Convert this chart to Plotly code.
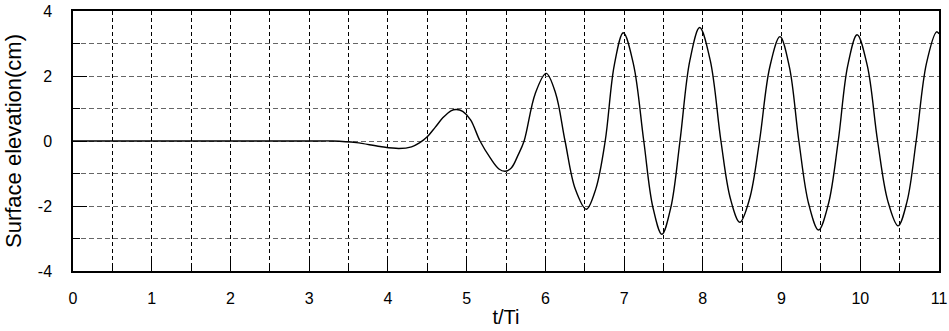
import plotly.graph_objects as go

# Surface elevation record (t/Ti, cm): extrema, zero crossings and in-between points
t_ti = [0.0, 1.0, 2.0, 3.0, 3.3, 3.6, 3.9, 4.14, 4.3, 4.4, 4.5, 4.6, 4.7, 4.8, 4.87,
        4.95, 5.05, 5.17, 5.3, 5.41, 5.49, 5.57, 5.65, 5.73, 5.87, 6.01, 6.13, 6.25,
        6.38, 6.52, 6.64, 6.76, 6.875, 6.99, 7.12, 7.25, 7.365, 7.48, 7.595, 7.71,
        7.835, 7.96, 8.095, 8.23, 8.35, 8.47, 8.595, 8.72, 8.85, 8.98, 9.1, 9.22,
        9.345, 9.47, 9.595, 9.72, 9.84, 9.96, 10.09, 10.22, 10.35, 10.48, 10.595,
        10.71, 10.84, 10.97, 11.0]
eta_cm = [0.0, 0.0, 0.0, 0.0, 0.0, -0.05, -0.17, -0.23, -0.18, -0.06, 0.13, 0.42, 0.72,
          0.93, 0.97, 0.91, 0.65, 0.0, -0.52, -0.86, -0.93, -0.82, -0.45, 0.0, 1.45,
          2.08, 1.47, 0.0, -1.48, -2.10, -1.48, 0.0, 2.33, 3.33, 2.35, 0.0, -2.03,
          -2.87, -2.03, 0.0, 2.47, 3.49, 2.47, 0.0, -1.77, -2.50, -1.77, 0.0, 2.27,
          3.21, 2.27, 0.0, -1.94, -2.74, -1.94, 0.0, 2.31, 3.27, 2.31, 0.0, -1.85,
          -2.61, -1.85, 0.0, 2.38, 3.36, 3.30]

x_ticks = list(range(0, 12))
y_ticks = [-4, -2, 0, 2, 4]

font_family = "Liberation Sans, Arial, sans-serif"

fig = go.Figure()
fig.add_trace(go.Scatter(
    x=t_ti, y=eta_cm, mode="lines",
    line=dict(color="black", width=1.4, shape="spline", smoothing=1.0),
    hoverinfo="skip", showlegend=False,
))

fig.update_layout(
    template="none",
    width=949, height=331,
    margin=dict(l=73, r=10, t=11, b=60, autoexpand=False),
    paper_bgcolor="white", plot_bgcolor="white",
    font=dict(family=font_family, size=16, color="black"),
    showlegend=False,
)

fig.update_xaxes(
    automargin=False,
    range=[0, 11], tickvals=x_ticks, ticktext=[str(v) for v in x_ticks],
    tickfont=dict(family=font_family, size=16, color="black"),
    ticks="inside", ticklen=14, tickwidth=1.3, tickcolor="black",
    ticklabelstandoff=12,
    showgrid=True, gridcolor="black", gridwidth=1, griddash="4px,3px",
    minor=dict(dtick=0.5, tick0=0, ticks="inside", ticklen=7, tickcolor="black",
               showgrid=True, gridcolor="black", gridwidth=1, griddash="4px,3px"),
    showline=True, linecolor="black", linewidth=1.5, mirror=True,
    zeroline=False,
    title=dict(text="t/Ti", font=dict(family=font_family, size=20), standoff=4),
)

fig.update_yaxes(
    automargin=False,
    range=[-4, 4], tickvals=y_ticks, ticktext=[str(v) for v in y_ticks],
    tickfont=dict(family=font_family, size=16, color="black"),
    ticks="inside", ticklen=14, tickwidth=1.3, tickcolor="black",
    ticklabelstandoff=16,
    showgrid=True, gridcolor="#666666", gridwidth=1, griddash="5px,3px",
    minor=dict(dtick=1, tick0=0, ticks="inside", ticklen=7, tickcolor="black",
               showgrid=True, gridcolor="#666666", gridwidth=1, griddash="5px,3px"),
    showline=True, linecolor="black", linewidth=1.5, mirror=True,
    zeroline=False,
    title=dict(text="Surface elevation(cm)", font=dict(family=font_family, size=22), standoff=10),
)

fig.write_html("out.html")
